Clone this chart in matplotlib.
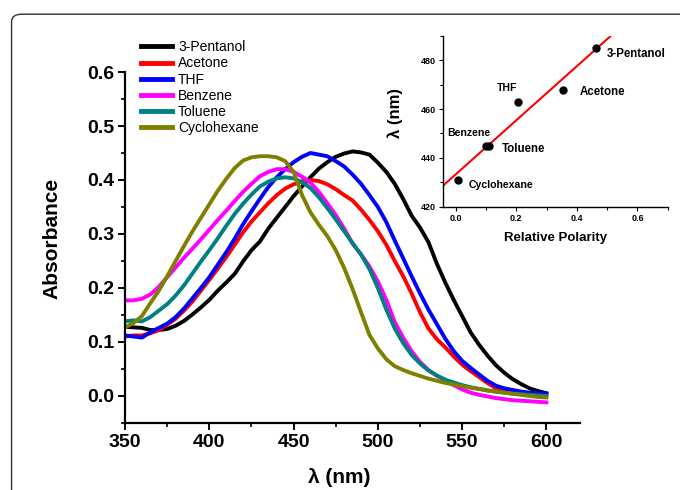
import numpy as np
import matplotlib
matplotlib.use('Agg')
import matplotlib.pyplot as plt
from matplotlib.ticker import MultipleLocator, FormatStrFormatter
from matplotlib.patches import FancyBboxPatch

plt.rcParams['font.family'] = ['Liberation Sans', 'DejaVu Sans']

# absorption spectra (nm, absorbance), 5 nm steps
wl = [350, 355, 360, 365, 370, 375, 380, 385, 390, 395,
      400, 405, 410, 415, 420, 425, 430, 435, 440, 445,
      450, 455, 460, 465, 470, 475, 480, 485, 490, 495,
      500, 505, 510, 515, 520, 525, 530, 535, 540, 545,
      550, 555, 560, 565, 570, 575, 580, 585, 590, 595, 600]

pentanol = [0.128, 0.127, 0.126, 0.122, 0.122, 0.124, 0.130, 0.139, 0.151, 0.164,
            0.178, 0.195, 0.210, 0.226, 0.249, 0.270, 0.286, 0.310, 0.330, 0.350,
            0.370, 0.388, 0.405, 0.421, 0.433, 0.443, 0.449, 0.453, 0.451, 0.447,
            0.432, 0.415, 0.393, 0.365, 0.334, 0.312, 0.285, 0.245, 0.210, 0.178,
            0.148, 0.118, 0.095, 0.075, 0.057, 0.043, 0.031, 0.022, 0.014, 0.009, 0.005]
acetone = [0.110, 0.112, 0.112, 0.116, 0.122, 0.132, 0.143, 0.158, 0.175, 0.195,
           0.215, 0.236, 0.257, 0.280, 0.303, 0.323, 0.340, 0.357, 0.372, 0.384,
           0.392, 0.398, 0.400, 0.398, 0.392, 0.383, 0.372, 0.362, 0.345, 0.326,
           0.305, 0.280, 0.250, 0.222, 0.190, 0.155, 0.125, 0.105, 0.090, 0.073,
           0.058, 0.046, 0.035, 0.024, 0.014, 0.010, 0.007, 0.005, 0.003, 0.002, 0.001]
thf = [0.112, 0.110, 0.108, 0.118, 0.126, 0.134, 0.146, 0.162, 0.181, 0.200,
       0.220, 0.243, 0.266, 0.291, 0.318, 0.342, 0.365, 0.387, 0.405, 0.420,
       0.433, 0.443, 0.450, 0.447, 0.444, 0.435, 0.425, 0.410, 0.393, 0.372,
       0.350, 0.322, 0.288, 0.255, 0.222, 0.190, 0.160, 0.133, 0.106, 0.083,
       0.065, 0.052, 0.040, 0.028, 0.019, 0.014, 0.011, 0.008, 0.006, 0.005, 0.004]
benzene = [0.177, 0.177, 0.180, 0.188, 0.202, 0.220, 0.238, 0.256, 0.273, 0.290,
           0.308, 0.326, 0.343, 0.361, 0.378, 0.393, 0.407, 0.415, 0.420, 0.420,
           0.415, 0.406, 0.395, 0.378, 0.357, 0.335, 0.310, 0.282, 0.262, 0.240,
           0.212, 0.178, 0.137, 0.108, 0.083, 0.063, 0.048, 0.037, 0.029, 0.020,
           0.012, 0.006, 0.002, -0.001, -0.004, -0.006, -0.008, -0.009, -0.010, -0.011, -0.012]
toluene = [0.138, 0.140, 0.138, 0.146, 0.158, 0.170, 0.186, 0.205, 0.227, 0.249,
           0.270, 0.292, 0.315, 0.337, 0.356, 0.373, 0.388, 0.397, 0.403, 0.405,
           0.403, 0.396, 0.385, 0.368, 0.348, 0.327, 0.305, 0.283, 0.262, 0.235,
           0.200, 0.160, 0.125, 0.098, 0.076, 0.060, 0.047, 0.038, 0.030, 0.025,
           0.020, 0.016, 0.013, 0.010, 0.008, 0.006, 0.004, 0.003, 0.002, 0.001, 0.000]
cyclohexane = [0.127, 0.135, 0.148, 0.172, 0.195, 0.222, 0.250, 0.278, 0.305, 0.330,
               0.355, 0.380, 0.402, 0.422, 0.436, 0.442, 0.444, 0.444, 0.442, 0.435,
               0.415, 0.372, 0.340, 0.317, 0.296, 0.270, 0.237, 0.198, 0.155, 0.113,
               0.088, 0.068, 0.055, 0.048, 0.042, 0.037, 0.032, 0.028, 0.024, 0.021,
               0.018, 0.015, 0.013, 0.010, 0.008, 0.006, 0.004, 0.002, 0.000, -0.002, -0.003]

solvents = ['3-Pentanol', 'Acetone', 'THF', 'Benzene', 'Toluene', 'Cyclohexane']
colors = ['black', '#ff0000', '#0000ff', '#ff00ff', '#008080', '#808000']
spectra = [pentanol, acetone, thf, benzene, toluene, cyclohexane]

# inset: absorption max vs relative polarity
polarity = [0.463, 0.355, 0.207, 0.099, 0.111, 0.006]
lam_max = [485, 468, 463, 445, 445, 431]


def main():
    fig = plt.figure(figsize=(6.8, 4.9), dpi=100)

    # rounded frame around the figure
    frame = FancyBboxPatch((0.017, -0.2), 1.2, 1.171, boxstyle='round,pad=0,rounding_size=0.015',
                           transform=fig.transFigure, fill=False, edgecolor='#333333', lw=1.0)
    fig.patches.append(frame)

    # 1. Main spectra
    ax = fig.add_axes([0.184, 0.137, 0.669, 0.716])
    for name, c, y in zip(solvents, colors, spectra):
        ax.plot(wl, y, color=c, lw=2.8, label=name)

    ax.set_xlim(350, 620)
    ax.set_ylim(-0.05, 0.6)
    ax.xaxis.set_major_locator(MultipleLocator(50))
    ax.xaxis.set_minor_locator(MultipleLocator(25))
    ax.yaxis.set_major_locator(MultipleLocator(0.1))
    ax.yaxis.set_minor_locator(MultipleLocator(0.05))
    ax.yaxis.set_major_formatter(FormatStrFormatter('%.1f'))
    for s in ['top', 'right']:
        ax.spines[s].set_visible(False)
    for s in ['left', 'bottom']:
        ax.spines[s].set_linewidth(1.6)
    ax.tick_params(which='major', length=5, width=1.4, labelsize=14, pad=3)
    ax.tick_params(which='minor', length=3, width=1.2)
    for lab in ax.get_xticklabels() + ax.get_yticklabels():
        lab.set_fontweight('bold')
    ax.set_xlabel('λ (nm)', fontsize=15, fontweight='bold')
    ax.set_ylabel('Absorbance', fontsize=15, fontweight='bold')
    ax.xaxis.set_label_coords(0.47, -0.13)
    ax.yaxis.set_label_coords(-0.14, 0.527)

    fig.legend(loc='upper left', bbox_to_anchor=(0.208, 0.918), bbox_transform=fig.transFigure,
               frameon=False, fontsize=10, handlelength=2.2, handletextpad=0.45,
               labelspacing=0.16, borderpad=0, borderaxespad=0)
    for line in fig.legends[0].get_lines():
        line.set_linewidth(3.5)

    # 2. Inset: lambda max vs polarity
    ins = fig.add_axes([0.651, 0.578, 0.331, 0.349])
    fit = np.polyfit(polarity, lam_max, 1)
    xf = np.array([-0.04, 0.51])
    ins.plot(xf, np.polyval(fit, xf), color='#ff0000', lw=1.5)
    ins.plot(polarity, lam_max, 'o', color='black', ms=5)

    offsets = {'3-Pentanol': (0.037, -2.5, 8.3), 'Acetone': (0.055, -1.2, 8.3),
               'THF': (-0.071, 5.7, 7.6), 'Benzene': (-0.127, 5.2, 7.6),
               'Toluene': (0.041, -1.5, 8.3), 'Cyclohexane': (0.038, -2.0, 7.6)}
    for name, px, py in zip(solvents, polarity, lam_max):
        dx, dy, fs = offsets[name]
        ins.text(px + dx, py + dy, name, fontsize=fs, fontweight='bold',
                 ha='left', va='center')

    ins.set_xlim(-0.043, 0.7)
    ins.set_ylim(420, 490)
    ins.xaxis.set_major_locator(MultipleLocator(0.2))
    ins.xaxis.set_minor_locator(MultipleLocator(0.1))
    ins.yaxis.set_major_locator(MultipleLocator(20))
    ins.yaxis.set_minor_locator(MultipleLocator(10))
    ins.xaxis.set_major_formatter(FormatStrFormatter('%.1f'))
    for s in ['top', 'right']:
        ins.spines[s].set_visible(False)
    for s in ['left', 'bottom']:
        ins.spines[s].set_linewidth(1.0)
    ins.tick_params(which='major', length=3, width=0.8, labelsize=6.5, pad=2)
    ins.tick_params(which='minor', length=2, width=0.8)
    for lab in ins.get_xticklabels() + ins.get_yticklabels():
        lab.set_fontweight('bold')
    ins.set_xlabel('Relative Polarity', fontsize=9.5, fontweight='bold')
    ins.set_ylabel('λ (nm)', fontsize=12, fontweight='bold')
    ins.xaxis.set_label_coords(0.5, -0.145)
    ins.yaxis.set_label_coords(-0.175, 0.55)

    fig.savefig('out.png', dpi=100)


if __name__ == '__main__':
    main()
